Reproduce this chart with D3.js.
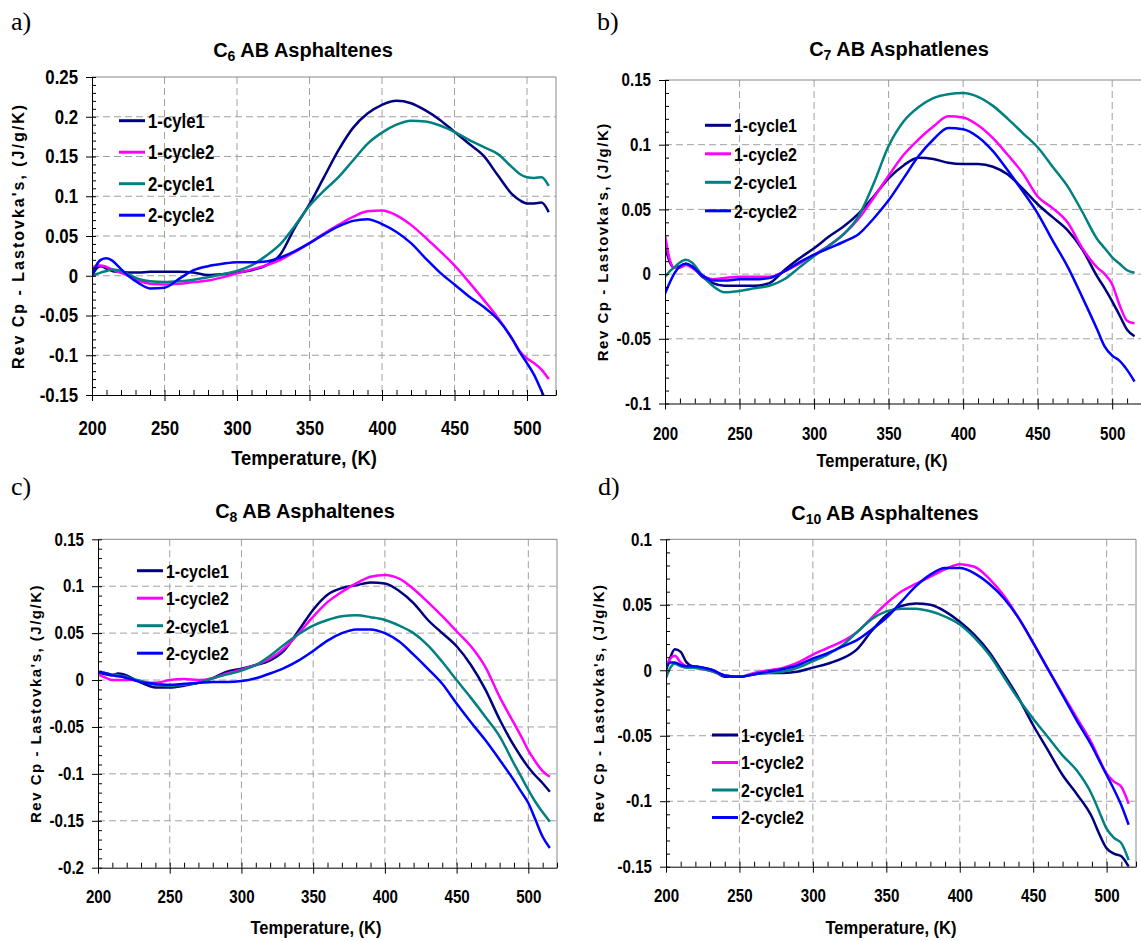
<!DOCTYPE html>
<html>
<head>
<meta charset="utf-8">
<script src="https://cdn.jsdelivr.net/npm/d3@7"></script>
<style>
  body { margin: 0; background: #fff; }
  svg { display: block; }
  .narrow { font-family: 'Liberation Sans Narrow', 'Arial Narrow', 'Liberation Sans', sans-serif; font-weight: bold; }
  .ytitle { font-family: 'Liberation Sans', Arial, sans-serif; font-weight: bold; }
  .plabel { font-family: 'Liberation Serif', 'Times New Roman', serif; }
</style>
</head>
<body>
<svg width="1141" height="941"></svg>
<script>
// temperature grid (K) shared by all the curves
const temps = [200, 203, 206, 210, 214, 218, 225, 232, 240,
  250, 260, 270, 280, 290, 300, 310, 320, 330, 340, 350, 360, 370, 380, 390, 400,
  410, 420, 430, 440, 450, 460, 470, 480, 490, 495, 500, 505, 510, 515]

// a) C6
const c6Run1Cyc1 = [0.0, 0.009, 0.012, 0.009, 0.006, 0.005, 0.004, 0.004, 0.005,
  0.005, 0.005, 0.004, 0.001, 0.002, 0.004, 0.007, 0.013, 0.027, 0.061, 0.09, 0.124, 0.158, 0.186, 0.204, 0.215,
  0.22, 0.217, 0.208, 0.196, 0.181, 0.166, 0.151, 0.126, 0.102, 0.095, 0.091, 0.091, 0.092, 0.08]
const c6Run1Cyc2 = [0.008, 0.013, 0.013, 0.011, 0.008, 0.005, 0.0, -0.006, -0.01,
  -0.011, -0.01, -0.008, -0.006, -0.002, 0.003, 0.008, 0.013, 0.02, 0.03, 0.041, 0.053, 0.064, 0.074, 0.081, 0.082,
  0.076, 0.064, 0.048, 0.031, 0.013, -0.008, -0.03, -0.053, -0.08, -0.095, -0.104, -0.11, -0.118, -0.13]
const c6Run2Cyc1 = [0.0, 0.002, 0.004, 0.006, 0.008, 0.007, 0.002, -0.004, -0.007,
  -0.008, -0.007, -0.005, -0.002, 0.002, 0.006, 0.013, 0.025, 0.04, 0.063, 0.088, 0.107, 0.124, 0.145, 0.166, 0.18,
  0.19, 0.195, 0.194, 0.189, 0.181, 0.171, 0.162, 0.153, 0.136, 0.128, 0.124, 0.123, 0.124, 0.113]
const c6Run2Cyc2 = [0.0, 0.013, 0.02, 0.022, 0.019, 0.012, 0.0, -0.009, -0.016,
  -0.015, -0.004, 0.007, 0.012, 0.015, 0.017, 0.017, 0.018, 0.023, 0.031, 0.041, 0.052, 0.062, 0.069, 0.071, 0.065,
  0.055, 0.041, 0.022, 0.004, -0.011, -0.026, -0.039, -0.055, -0.08, -0.096, -0.11, -0.125, -0.145, -0.165]

// b) C7
const c7Run1Cyc1 = [0.022, 0.01, 0.005, 0.006, 0.008, 0.006, -0.002, -0.007, -0.009,
  -0.009, -0.009, -0.007, 0.003, 0.012, 0.02, 0.029, 0.037, 0.047, 0.06, 0.074, 0.084, 0.09, 0.089, 0.086, 0.085,
  0.085, 0.083, 0.077, 0.066, 0.054, 0.044, 0.034, 0.019, -0.002, -0.011, -0.021, -0.032, -0.043, -0.048]
const c7Run1Cyc2 = [0.03, 0.012, 0.005, 0.005, 0.007, 0.005, -0.001, -0.004, -0.003,
  -0.002, -0.002, -0.002, 0.002, 0.008, 0.015, 0.022, 0.031, 0.043, 0.059, 0.076, 0.092, 0.104, 0.114, 0.122, 0.121,
  0.115, 0.105, 0.092, 0.078, 0.06, 0.051, 0.04, 0.02, 0.005, 0.0, -0.008, -0.024, -0.036, -0.038]
const c7Run2Cyc1 = [-0.002, 0.002, 0.005, 0.009, 0.011, 0.009, -0.001, -0.009, -0.014,
  -0.013, -0.011, -0.009, -0.004, 0.005, 0.014, 0.022, 0.031, 0.045, 0.07, 0.099, 0.118, 0.129, 0.136, 0.139, 0.14,
  0.137, 0.13, 0.12, 0.109, 0.098, 0.083, 0.068, 0.048, 0.027, 0.02, 0.013, 0.008, 0.003, 0.001]
const c7Run2Cyc2 = [-0.015, -0.007, 0.0, 0.006, 0.008, 0.006, -0.001, -0.005, -0.005,
  -0.004, -0.004, -0.003, 0.002, 0.009, 0.015, 0.02, 0.025, 0.031, 0.043, 0.057, 0.074, 0.091, 0.104, 0.113, 0.112,
  0.106, 0.095, 0.08, 0.064, 0.047, 0.026, 0.006, -0.018, -0.043, -0.056, -0.063, -0.067, -0.074, -0.083]

// c) C8
const c8Run1Cyc1 = [0.008, 0.007, 0.006, 0.005, 0.007, 0.006, 0.001, -0.004, -0.008,
  -0.008, -0.006, -0.003, 0.002, 0.009, 0.012, 0.016, 0.021, 0.032, 0.053, 0.075, 0.091, 0.098, 0.101, 0.104, 0.103,
  0.095, 0.082, 0.064, 0.05, 0.036, 0.016, -0.01, -0.042, -0.07, -0.082, -0.093, -0.102, -0.11, -0.119]
const c8Run1Cyc2 = [0.006, 0.004, 0.002, 0.0, 0.0, 0.0, 0.0, -0.002, -0.003,
  0.0, 0.001, 0.0, 0.002, 0.007, 0.011, 0.016, 0.023, 0.034, 0.05, 0.0675, 0.083, 0.094, 0.103, 0.11, 0.112,
  0.108, 0.097, 0.083, 0.068, 0.052, 0.036, 0.014, -0.018, -0.046, -0.06, -0.075, -0.087, -0.097, -0.103]
const c8Run2Cyc1 = [0.008, 0.008, 0.007, 0.006, 0.005, 0.004, 0.001, -0.002, -0.005,
  -0.006, -0.005, -0.003, 0.002, 0.006, 0.01, 0.016, 0.026, 0.038, 0.049, 0.058, 0.064, 0.068, 0.069, 0.067, 0.064,
  0.058, 0.05, 0.037, 0.0195, 0.0, -0.019, -0.039, -0.06, -0.089, -0.103, -0.117, -0.13, -0.141, -0.151]
const c8Run2Cyc2 = [0.008, 0.008, 0.007, 0.005, 0.004, 0.003, 0.0, -0.003, -0.004,
  -0.005, -0.004, -0.003, -0.002, -0.002, -0.001, 0.002, 0.007, 0.013, 0.021, 0.031, 0.042, 0.05, 0.054, 0.054, 0.05,
  0.041, 0.027, 0.012, -0.004, -0.025, -0.045, -0.064, -0.085, -0.107, -0.119, -0.131, -0.149, -0.167, -0.179]

// d) C10
const c10Run1Cyc1 = [0.0, 0.01, 0.016, 0.014, 0.006, 0.003, 0.002, 0.0, -0.005,
  -0.005, -0.003, -0.002, -0.002, -0.001, 0.002, 0.005, 0.009, 0.016, 0.03, 0.042, 0.049, 0.051, 0.05, 0.045, 0.037,
  0.027, 0.014, -0.003, -0.021, -0.042, -0.061, -0.08, -0.095, -0.112, -0.125, -0.136, -0.14, -0.142, -0.15]
const c10Run1Cyc2 = [0.003, 0.009, 0.011, 0.006, 0.003, 0.002, 0.001, -0.001, -0.004,
  -0.005, -0.002, 0.0, 0.002, 0.006, 0.012, 0.017, 0.022, 0.029, 0.04, 0.051, 0.06, 0.066, 0.0715, 0.077, 0.081,
  0.079, 0.07, 0.057, 0.04, 0.021, 0.001, -0.018, -0.037, -0.056, -0.068, -0.079, -0.085, -0.089, -0.102]
const c10Run2Cyc1 = [-0.006, 0.002, 0.005, 0.003, 0.002, 0.002, 0.001, -0.001, -0.004,
  -0.005, -0.003, -0.002, -0.001, 0.002, 0.007, 0.012, 0.019, 0.029, 0.039, 0.045, 0.047, 0.047, 0.045, 0.041, 0.035,
  0.025, 0.012, -0.005, -0.022, -0.037, -0.051, -0.065, -0.077, -0.095, -0.108, -0.121, -0.128, -0.132, -0.145]
const c10Run2Cyc2 = [0.002, 0.006, 0.006, 0.004, 0.003, 0.003, 0.002, 0.0, -0.004,
  -0.005, -0.003, -0.001, 0.001, 0.004, 0.009, 0.013, 0.018, 0.023, 0.031, 0.04, 0.052, 0.064, 0.073, 0.078, 0.078,
  0.074, 0.066, 0.055, 0.04, 0.021, 0.001, -0.019, -0.039, -0.058, -0.069, -0.08, -0.091, -0.103, -0.118]

const namesA = ['1-cyle1', '1-cycle2', '2-cycle1', '2-cycle2']
const namesOther = ['1-cycle1', '1-cycle2', '2-cycle1', '2-cycle2']
const colors = ['#000080', '#ff00ff', '#008080', '#0000ff']

const xTicks = [200, 250, 300, 350, 400, 450, 500]
const yTicksA = [-0.15, -0.1, -0.05, 0, 0.05, 0.1, 0.15, 0.2, 0.25]
const yTicksB = [-0.1, -0.05, 0, 0.05, 0.1, 0.15]
const yTicksC = [-0.2, -0.15, -0.1, -0.05, 0, 0.05, 0.1, 0.15]
const yTicksD = [-0.15, -0.1, -0.05, 0, 0.05, 0.1]

const yTitle = "Rev Cp - Lastovka's, (J/g/K)"
const xTitle = 'Temperature, (K)'

// narrow-font stand-in: squeeze the bold sans horizontally
const SQ = 0.84

// layout of the four Excel panels
const panels = [
  { tag: 'a)', sub: '6', rest: ' AB Asphaltenes', series: [c6Run1Cyc1, c6Run1Cyc2, c6Run2Cyc1, c6Run2Cyc2], names: namesA, yTicks: yTicksA,
    left: 92, right: 556, top: 77, bottom: 395, tagX: 11, tagY: 30, titleX: 303, titleY: 57,
    legX: 119, legY: 120.7, legStep: 31.5, yTitleX: 18, xTitleX: 304, xTitleY: 465, fs: 20, lfs: 19, yfs: 16, ls: 2, xLabGap: 40 },
  { tag: 'b)', sub: '7', rest: ' AB Asphatlenes', series: [c7Run1Cyc1, c7Run1Cyc2, c7Run2Cyc1, c7Run2Cyc2], names: namesOther, yTicks: yTicksB,
    left: 665, right: 1142, top: 80, bottom: 403.5, tagX: 597, tagY: 30, titleX: 899, titleY: 56,
    legX: 705, legY: 125.3, legStep: 28.5, yTitleX: 603, xTitleX: 882, xTitleY: 467, fs: 18, lfs: 18, yfs: 15, ls: 1.5, xLabGap: 36.5 },
  { tag: 'c)', sub: '8', rest: ' AB Asphaltenes', series: [c8Run1Cyc1, c8Run1Cyc2, c8Run2Cyc1, c8Run2Cyc2], names: namesOther, yTicks: yTicksC,
    left: 98, right: 557, top: 539.3, bottom: 867.7, tagX: 11, tagY: 495, titleX: 305, titleY: 518,
    legX: 137, legY: 570.7, legStep: 27.5, yTitleX: 36, xTitleX: 316, xTitleY: 934, fs: 18, lfs: 18, yfs: 15, ls: 1.5, xLabGap: 35.5 },
  { tag: 'd)', sub: '10', rest: ' AB Asphaltenes', series: [c10Run1Cyc1, c10Run1Cyc2, c10Run2Cyc1, c10Run2Cyc2], names: namesOther, yTicks: yTicksD,
    left: 666, right: 1136, top: 539.3, bottom: 866.7, tagX: 598, tagY: 495, titleX: 885, titleY: 520,
    legX: 712, legY: 735, legStep: 27.5, yTitleX: 599, xTitleX: 891, xTitleY: 934, fs: 18, lfs: 18, yfs: 15, ls: 1.5, xLabGap: 35 }
]

const svg = d3.select('svg')

panels.forEach((p, pi) => {
  const g = svg.append('g')
  const yMin = d3.min(p.yTicks), yMax = d3.max(p.yTicks)

  const x = d3.scaleLinear().domain([200, 520]).range([p.left, p.right])
  const y = d3.scaleLinear().domain([yMin, yMax]).range([p.bottom, p.top])

  // dashed grid
  g.selectAll('line.vgrid')
    .data(xTicks.filter(t => t > 200))
    .enter().append('line')
    .attr('x1', d => x(d)).attr('x2', d => x(d))
    .attr('y1', p.top).attr('y2', p.bottom)
    .attr('stroke', '#a0a0a0').attr('stroke-dasharray', '7,4')
  g.selectAll('line.hgrid')
    .data(p.yTicks.filter(t => t > yMin && t < yMax))
    .enter().append('line')
    .attr('x1', p.left).attr('x2', p.right)
    .attr('y1', d => y(d)).attr('y2', d => y(d))
    .attr('stroke', '#a0a0a0').attr('stroke-dasharray', '7,4')

  // top and right frame
  g.append('path')
    .attr('d', `M${p.left},${p.top}H${p.right}V${p.bottom}`)
    .attr('fill', 'none').attr('stroke', '#888')

  // curves, clipped to the plot box
  const clipId = 'clip' + pi
  svg.append('clipPath').attr('id', clipId)
    .append('rect').attr('x', p.left).attr('y', p.top)
    .attr('width', p.right - p.left).attr('height', p.bottom - p.top)

  const line = d3.line()
    .x((d, i) => x(temps[i]))
    .y(d => y(d))
    .curve(d3.curveMonotoneX)

  g.append('g').attr('clip-path', `url(#${clipId})`)
    .selectAll('path')
    .data(p.series)
    .enter().append('path')
    .attr('d', line)
    .attr('fill', 'none')
    .attr('stroke', (d, i) => colors[i])
    .attr('stroke-width', 2.5)
    .attr('stroke-linejoin', 'round')

  // x axis: major ticks cross, minor ticks inside
  const minorX = d3.range(200, 521, 10)
  const xAxis = g.append('g').attr('transform', `translate(0,${p.bottom})`)
    .call(d3.axisBottom(x).tickValues(xTicks).tickSize(6).tickSizeOuter(0)
      .tickPadding(p.xLabGap - 6 - 0.71 * p.fs))
  g.append('g').attr('transform', `translate(0,${p.bottom})`)
    .call(d3.axisTop(x).tickValues(minorX).tickSize(5).tickSizeOuter(0).tickFormat(''))
    .select('.domain').remove()

  // y axis
  const minorY = d3.range(Math.round(yMin * 100), Math.round(yMax * 100) + 1).map(v => v / 100)
  const yAxis = g.append('g').attr('transform', `translate(${p.left},0)`)
    .call(d3.axisLeft(y).tickValues(p.yTicks).tickSize(6).tickSizeOuter(0)
      .tickPadding(8).tickFormat(d => String(+d.toFixed(2))))
  g.append('g').attr('transform', `translate(${p.left},0)`)
    .call(d3.axisRight(y).tickValues(minorY).tickSize(4).tickSizeOuter(0).tickFormat(''))
    .select('.domain').remove()

  g.selectAll('.domain').attr('stroke', '#000')
  g.selectAll('.tick line').attr('stroke', '#000')
  ;[xAxis, yAxis].forEach(ax => ax.selectAll('text')
    .attr('class', 'narrow').style('font-size', p.fs + 'px').attr('fill', '#000')
    .attr('transform', `scale(${SQ},1)`))
  yAxis.selectAll('text').attr('x', -14 / SQ)

  // titles
  const t = g.append('text').attr('class', 'narrow')
    .attr('x', p.titleX).attr('y', p.titleY)
    .attr('text-anchor', 'middle').style('font-size', '20px')
  t.append('tspan').text('C')
  t.append('tspan').text(p.sub).style('font-size', '14px').attr('dy', 4)
  t.append('tspan').text(p.rest).attr('dy', -4)

  g.append('text').attr('class', 'plabel')
    .attr('x', p.tagX).attr('y', p.tagY)
    .style('font-size', '26px').text(p.tag)

  g.append('text').attr('class', 'narrow')
    .attr('transform', `translate(${p.xTitleX},${p.xTitleY}) scale(0.92,1)`)
    .attr('text-anchor', 'middle').style('font-size', p.fs + 'px')
    .text(xTitle)

  g.append('text').attr('class', 'ytitle')
    .attr('transform', `translate(${p.yTitleX},${(p.top + p.bottom) / 2}) rotate(-90)`)
    .attr('text-anchor', 'middle').attr('dy', '0.35em')
    .style('font-size', p.yfs + 'px').style('letter-spacing', p.ls + 'px')
    .text(yTitle)

  // legend
  const leg = g.selectAll('g.leg')
    .data(p.names)
    .enter().append('g')
    .attr('transform', (d, i) => `translate(${p.legX},${p.legY + i * p.legStep})`)
  leg.append('line')
    .attr('x1', 0).attr('x2', 26)
    .attr('stroke', (d, i) => colors[i]).attr('stroke-width', 3)
  leg.append('text').attr('class', 'narrow')
    .attr('transform', `translate(29,0) scale(${SQ},1)`).attr('dy', '0.36em')
    .style('font-size', (p.lfs + 1) + 'px')
    .text(d => d)
})
</script>
</body>
</html>
